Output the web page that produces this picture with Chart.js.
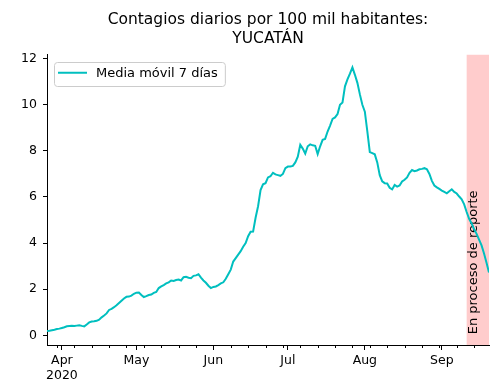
<!DOCTYPE html>
<html>
<head>
<meta charset="utf-8">
<script src="https://cdn.jsdelivr.net/npm/chart.js@4.4.0/dist/chart.umd.min.js"></script>
<style>
  html, body { margin: 0; padding: 0; background: #fff; }
</style>
</head>
<body>
<canvas id="grafica" width="490" height="381"></canvas>
<script>
// Contagios diarios por 100 mil habitantes, Yucatán
// dia 0 = 26 de marzo de 2020, un valor por día hasta el 20 de septiembre

const mediaMovil = [
  0.19, 0.20, 0.22, 0.24, 0.27, 0.29, 0.32, 0.35, 0.39, 0.40,
  0.41, 0.40, 0.42, 0.44, 0.41, 0.39, 0.47, 0.56, 0.60, 0.61,
  0.63, 0.68, 0.78, 0.86, 0.95, 1.10, 1.15, 1.22, 1.30, 1.40,
  1.50, 1.60, 1.67, 1.68, 1.72, 1.80, 1.85, 1.86, 1.75, 1.66,
  1.70, 1.75, 1.77, 1.84, 1.88, 2.05, 2.12, 2.18, 2.25, 2.30,
  2.38, 2.36, 2.40, 2.42, 2.38, 2.52, 2.54, 2.50, 2.48, 2.58,
  2.60, 2.65, 2.50, 2.38, 2.28, 2.15, 2.05, 2.10, 2.12, 2.18,
  2.25, 2.30, 2.45, 2.65, 2.85, 3.20, 3.35, 3.50, 3.65, 3.84,
  4.00, 4.30, 4.49, 4.50, 5.10, 5.60, 6.30, 6.55, 6.60, 6.85,
  6.90, 7.05, 6.98, 6.95, 6.92, 7.00, 7.25, 7.32, 7.32, 7.35,
  7.50, 7.75, 8.26, 8.10, 7.88, 8.20, 8.28, 8.24, 8.22, 7.86,
  8.20, 8.48, 8.52, 8.84, 9.10, 9.39, 9.45, 9.60, 10.00, 10.10,
  10.80, 11.10, 11.35, 11.62, 11.30, 10.95, 10.45, 10.00, 9.70, 8.85,
  7.95, 7.90, 7.85, 7.50, 6.95, 6.68, 6.60, 6.59, 6.40, 6.33,
  6.52, 6.45, 6.50, 6.67, 6.75, 6.85, 7.05, 7.17, 7.12, 7.15,
  7.20, 7.22, 7.25, 7.20, 7.00, 6.70, 6.50, 6.42, 6.35, 6.28,
  6.22, 6.16, 6.25, 6.33, 6.22, 6.15, 6.02, 5.90, 5.68, 5.35,
  5.05, 4.85, 4.60, 4.40, 4.15, 3.90, 3.55, 3.15, 2.72
];

// Marcas del eje x (días desde el 26 de marzo)
const mesDias = [6, 36, 67, 97, 128, 159];
const mesEtiquetas = [['Apr', '2020'], 'May', 'Jun', 'Jul', 'Aug', 'Sep'];
const lunesDias = [4, 11, 18, 25, 32, 39, 46, 53, 60, 67, 74, 81, 88, 95, 102,
  109, 116, 123, 130, 137, 144, 151, 158, 165, 172];
const yTicks = [0, 2, 4, 6, 8, 10, 12];

// Desde aquí los datos aún están en proceso de reporte
const inicioReporte = 169;

const colorLinea = '#00bfbf';
const puntos = mediaMovil.map((v, i) => ({ x: i, y: v }));

// Franja roja y texto vertical
const franjaReporte = {
  id: 'franjaReporte',
  beforeDatasetsDraw(chart) {
    const { ctx, chartArea, scales } = chart;
    const x0 = scales.x.getPixelForValue(inicioReporte);
    ctx.save();
    ctx.fillStyle = 'rgba(255, 0, 0, 0.2)';
    ctx.fillRect(x0, chartArea.top, chartArea.right - x0, chartArea.bottom - chartArea.top);
    ctx.translate(x0, scales.y.getPixelForValue(0) - 1);
    ctx.rotate(-Math.PI / 2);
    ctx.fillStyle = '#000';
    ctx.font = '13px "DejaVu Sans"';
    ctx.textAlign = 'left';
    ctx.textBaseline = 'top';
    ctx.fillText('En proceso de reporte', 0, 0);
    ctx.restore();
  }
};

// Leyenda dentro del área, con marco al estilo matplotlib
const leyenda = {
  id: 'leyenda',
  afterDatasetsDraw(chart) {
    const { ctx, chartArea } = chart;
    const texto = chart.data.datasets[0].label;
    const x0 = chartArea.left + 7;
    const y0 = chartArea.top + 7;
    ctx.save();
    ctx.font = '13px "DejaVu Sans"';
    const ancho = 42 + ctx.measureText(texto).width + 7;
    ctx.beginPath();
    ctx.roundRect(Math.round(x0) + 0.5, Math.round(y0) + 0.5, ancho, 24, 3);
    ctx.fillStyle = 'rgba(255, 255, 255, 0.8)';
    ctx.fill();
    ctx.strokeStyle = '#cccccc';
    ctx.lineWidth = 1;
    ctx.stroke();
    ctx.beginPath();
    ctx.moveTo(x0 + 4, y0 + 11);
    ctx.lineTo(x0 + 33, y0 + 11);
    ctx.strokeStyle = colorLinea;
    ctx.lineWidth = 2;
    ctx.stroke();
    ctx.fillStyle = '#000';
    ctx.textAlign = 'left';
    ctx.textBaseline = 'middle';
    ctx.fillText(texto, x0 + 42, y0 + 12);
    ctx.restore();
  }
};

// Marcas menores semanales
const marcasMenores = {
  id: 'marcasMenores',
  afterDraw(chart) {
    const { ctx, chartArea, scales } = chart;
    ctx.save();
    ctx.strokeStyle = '#000';
    ctx.lineWidth = 1;
    ctx.beginPath();
    lunesDias.forEach((d) => {
      const px = Math.round(scales.x.getPixelForValue(d)) + 0.5;
      ctx.moveTo(px, chartArea.bottom);
      ctx.lineTo(px, chartArea.bottom + 3);
    });
    ctx.stroke();
    ctx.restore();
  }
};

new Chart(document.getElementById('grafica'), {
  type: 'line',
  data: {
    datasets: [
      {
        label: 'Media móvil 7 días',
        data: puntos,
        borderColor: colorLinea,
        backgroundColor: colorLinea,
        borderWidth: 2,
        pointRadius: 0,
        tension: 0,
        fill: false
      }
    ]
  },
  options: {
    responsive: false,
    animation: false,
    layout: { padding: { left: 0, right: 1, top: 0, bottom: 0 } },
    plugins: {
      title: {
        display: true,
        fullSize: false,
        text: ['Contagios diarios por 100 mil habitantes:', 'YUCATÁN'],
        color: '#000',
        font: { family: 'DejaVu Sans', size: 15.5, weight: 'normal', lineHeight: 1.25 },
        padding: { top: 10, bottom: 6 }
      },
      legend: { display: false },
      tooltip: { enabled: false }
    },
    scales: {
      x: {
        type: 'linear',
        min: 0,
        max: mediaMovil.length - 1,
        afterBuildTicks: (scale) => {
          scale.ticks = mesDias.map((d) => ({ value: d }));
        },
        afterFit: (scale) => { scale.height = 36; },
        grid: { drawOnChartArea: false, tickLength: 5, color: '#000', tickColor: '#000' },
        border: { display: true, color: '#000', width: 1 },
        ticks: {
          autoSkip: false,
          maxRotation: 0,
          padding: 3,
          color: '#000',
          font: { family: 'DejaVu Sans', size: 12.5, lineHeight: 1.2 },
          callback: (value) => {
            const i = mesDias.indexOf(value);
            return i >= 0 ? mesEtiquetas[i] : '';
          }
        }
      },
      y: {
        min: -0.42,
        max: 12.17,
        afterBuildTicks: (scale) => {
          scale.ticks = yTicks.map((v) => ({ value: v }));
        },
        afterFit: (scale) => { scale.width = 47; },
        grid: { drawOnChartArea: false, tickLength: 4, color: '#000', tickColor: '#000' },
        border: { display: true, color: '#000', width: 1 },
        ticks: {
          padding: 6,
          color: '#000',
          font: { family: 'DejaVu Sans', size: 12.5 }
        }
      }
    }
  },
  plugins: [franjaReporte, leyenda, marcasMenores]
});
</script>
</body>
</html>
